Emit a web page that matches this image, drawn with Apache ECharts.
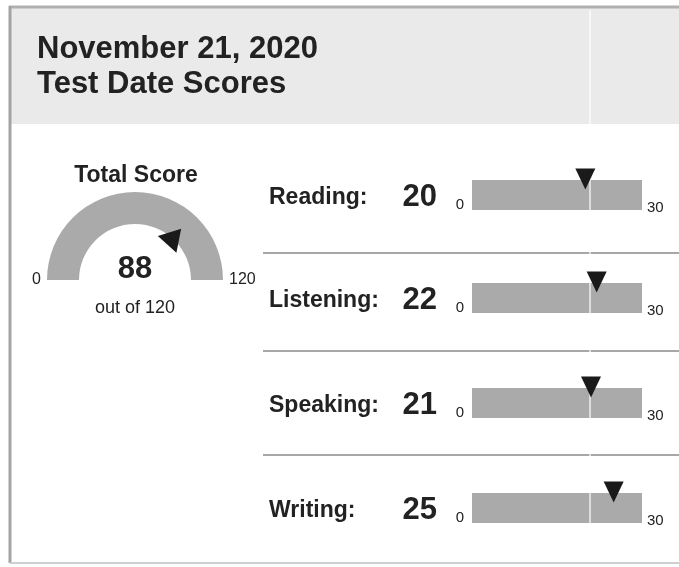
<!DOCTYPE html>
<html><head><meta charset="utf-8">
<script src="https://cdn.jsdelivr.net/npm/echarts@6/dist/echarts.min.js"></script>
<style>html,body{margin:0;padding:0;background:#fff}#c{width:679px;height:567px}</style>
</head><body><div id="c"></div>
<script>
// ---- data ----
const titleLines = ['November 21, 2020', 'Test Date Scores'];
const totalLabel = 'Total Score';
const totalScore = 88;
const totalMin = 0;
const totalMax = 120;
const totalSub = 'out of 120';
const sections = ['Reading', 'Listening', 'Speaking', 'Writing'];
const sectionScores = [20, 22, 21, 25];
const sectionMin = 0;
const sectionMax = 30;
const sectionTicks = [0, 30];

// ---- layout / style ----
const FONT = '"Liberation Sans", Arial, sans-serif';
const INK = '#222222';
const BAR = '#aaaaaa';
const rowTops = [180, 283, 388, 493];
const rowH = 30;
const sepY = [253, 351, 455];

const chart = echarts.init(document.getElementById('c'), null, {renderer: 'canvas'});

const grids = [], xAxes = [], yAxes = [], series = [];
sections.forEach((name, i) => {
  grids.push({left: 472, width: 170, top: rowTops[i], height: rowH, containLabel: false});
  xAxes.push({
    gridIndex: i, type: 'value', min: sectionMin, max: sectionMax,
    axisLine: {show: false}, axisTick: {show: false}, splitLine: {show: false},
    axisLabel: {
      customValues: sectionTicks, fontFamily: FONT, fontSize: 15, color: INK,
      margin: -13, alignMinLabel: 'right', alignMaxLabel: 'left', padding: [0, 8, 0, 5],
      formatter: (v) => v === sectionMax ? '{hi|' + v + '}' : '{lo|' + v + '}',
      rich: {
        lo: {fontFamily: FONT, fontSize: 15, color: INK},
        hi: {fontFamily: FONT, fontSize: 15, color: INK, padding: [3, 0, 0, 0]}
      }
    }
  });
  yAxes.push({
    gridIndex: i, type: 'category', data: [name],
    axisLine: {show: false}, axisTick: {show: false}, splitLine: {show: false},
    axisLabel: {
      margin: 35, padding: [5, 0, 0, 0],
      formatter: (v) => '{n|' + v + ':}{s|' + sectionScores[sections.indexOf(v)] + '}',
      rich: {
        n: {fontFamily: FONT, fontSize: 23, fontWeight: 'bold', color: INK, width: 128, align: 'left'},
        s: {fontFamily: FONT, fontSize: 31, fontWeight: 'bold', color: INK, width: 40, align: 'right'}
      }
    }
  });
  series.push({
    type: 'bar', xAxisIndex: i, yAxisIndex: i, barWidth: '100%', silent: true,
    itemStyle: {color: BAR}, data: [sectionMax]
  });
  series.push({
    type: 'scatter', xAxisIndex: i, yAxisIndex: i, clip: false, silent: true,
    symbol: 'triangle', symbolRotate: 180, symbolSize: [20, 21], symbolOffset: [0, -16],
    itemStyle: {color: '#1a1a1a', opacity: 1}, z: 5,
    data: [[sectionScores[i], name]]
  });
});

series.push({
  type: 'gauge', center: [135, 280], radius: 88,
  startAngle: 180, endAngle: 0, min: totalMin, max: totalMax, splitNumber: 1,
  axisLine: {lineStyle: {width: 32, color: [[1, BAR]]}},
  axisTick: {show: false}, splitLine: {show: false},
  axisLabel: {
    distance: -56, color: INK,
    formatter: (v) => v === totalMin ? '{l|' + v + '}' : '{r|' + v + '}',
    rich: {
      l: {fontFamily: FONT, fontSize: 16, color: INK, width: 30, align: 'right'},
      r: {fontFamily: FONT, fontSize: 16, color: INK, width: 30, align: 'left'}
    }
  },
  progress: {show: false},
  anchor: {show: false},
  pointer: {
    icon: 'path://M12.5,0 L25,21 L0,21 Z M12.5,69 L12.5,69',
    length: 69, width: 25, itemStyle: {color: '#1a1a1a'}
  },
  title: {offsetCenter: [0, 28], fontFamily: FONT, fontSize: 18, color: INK},
  detail: {offsetCenter: [0, -11], fontFamily: FONT, fontSize: 31, fontWeight: 'bold', color: INK,
           formatter: '{value}'},
  data: [{value: totalScore, name: totalSub}]
});

const graphic = [
  {type: 'rect', z: -10, shape: {x: 9, y: 6, width: 670, height: 118}, style: {fill: '#eaeaea'}},
  {type: 'line', z: -9, shape: {x1: 9, y1: 7, x2: 679, y2: 7}, style: {stroke: '#b0b0b0', lineWidth: 3}},
  {type: 'line', z: -9, shape: {x1: 10, y1: 6, x2: 10, y2: 563}, style: {stroke: '#a3a3a3', lineWidth: 3}},
  {type: 'line', z: -9, shape: {x1: 10, y1: 563, x2: 679, y2: 563}, style: {stroke: '#cfcfcf', lineWidth: 2}},
  {type: 'text', x: 136, y: 176, style: {
    text: totalLabel, align: 'center', verticalAlign: 'middle',
    font: 'bold 23px ' + FONT, fill: INK}}
];
sepY.forEach(y => graphic.push({type: 'line', z: -5, shape: {x1: 263, y1: y, x2: 679, y2: y},
  style: {stroke: '#8a8a8a', lineWidth: 1.5}}));
graphic.push({type: 'line', z: 3, shape: {x1: 590, y1: 10, x2: 590, y2: 530},
  style: {stroke: 'rgba(255,255,255,0.6)', lineWidth: 2}});

chart.setOption({
  animation: false,
  backgroundColor: '#ffffff',
  title: {
    text: titleLines.join('\n'), left: 32, top: 27,
    textStyle: {fontFamily: FONT, fontSize: 31, fontWeight: 'bold', color: INK, lineHeight: 35}
  },
  grid: grids, xAxis: xAxes, yAxis: yAxes, series: series, graphic: graphic
});
</script></body></html>
